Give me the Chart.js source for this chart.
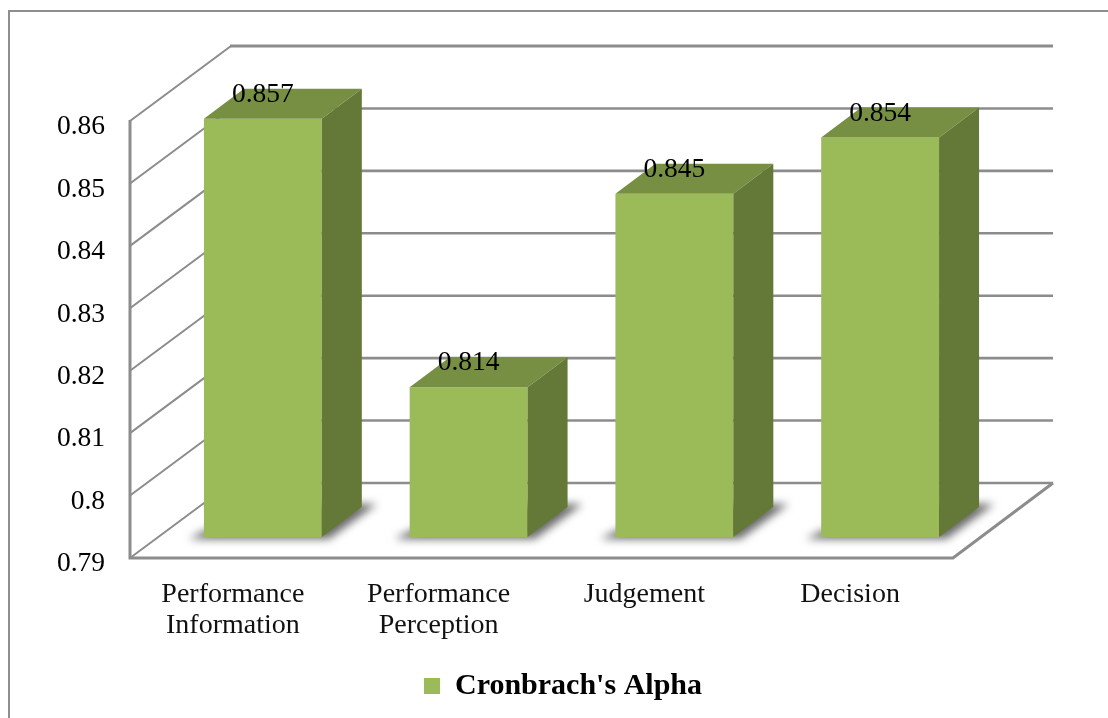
<!DOCTYPE html>
<html lang="en">
<head>
  <meta charset="UTF-8" />
  <title>Cronbach's Alpha</title>
  <script src="https://cdn.jsdelivr.net/npm/chart.js"></script>
  <style>
    html, body { margin: 0; background: #fff; overflow: hidden; }
    #frame {
      position: absolute; left: 8px; top: 10px;
      width: 1300px; height: 900px;
      border: 2px solid #8e8e8e;
    }
    #chart { position: absolute; left: 0; top: 0; }
  </style>
</head>
<body>
  <div id="frame"></div>
  <canvas id="chart" width="1108" height="718"></canvas>

  <script>
    const categories = [
      ['Performance', 'Information'],
      ['Performance', 'Perception'],
      ['Judgement'],
      ['Decision']
    ];
    const alphaValues = [0.857, 0.814, 0.845, 0.854];
    const seriesName = "Cronbrach's Alpha";
    const yMin = 0.79;
    const yMax = 0.86;

    const serif = "'Liberation Serif', serif";
    const gridColor = '#8c8c8c';

    // fake 3D offsets
    const wallDx = 101, wallDy = 75;
    const barShiftX = 30, barShiftY = -21;
    const barDepthX = 40, barDepthY = 30;

    function poly(ctx, pts, fill) {
      ctx.beginPath();
      pts.forEach((p, i) => i ? ctx.lineTo(p[0], p[1]) : ctx.moveTo(p[0], p[1]));
      ctx.closePath();
      ctx.fillStyle = fill;
      ctx.fill();
    }

    const box3d = {
      id: 'box3d',
      beforeDraw(chart) {
        // legend sits a bit right of the page centre in the original
        const lg = chart.legend;
        lg.left = 18;
        lg.right = 1108;
        lg.top = 661;
        lg.bottom = 718;
      },
      beforeDatasetsDraw(chart) {
        const ctx = chart.ctx;
        const { left, right, bottom } = chart.chartArea;
        const y = chart.scales.y;

        // walls and floor
        ctx.save();
        ctx.strokeStyle = gridColor;
        y.ticks.forEach(t => {
          const py = y.getPixelForValue(t.value);
          ctx.lineWidth = 2;
          ctx.beginPath();
          ctx.moveTo(left, py);
          ctx.lineTo(left + wallDx, py - wallDy);
          ctx.stroke();
          ctx.lineWidth = t.value === yMax ? 3 : 2.6;
          ctx.beginPath();
          ctx.moveTo(left + wallDx - 1, py - wallDy);
          ctx.lineTo(right + wallDx - 1, py - wallDy);
          ctx.stroke();
        });
        ctx.lineWidth = 3;
        ctx.beginPath();
        ctx.moveTo(left, y.getPixelForValue(yMax) - 1);
        ctx.lineTo(left, bottom);
        ctx.lineTo(right, bottom);
        ctx.lineTo(right + wallDx - 1, bottom - wallDy);
        ctx.stroke();
        ctx.restore();

        // bars are pushed back off the front plane, closed in afterDatasetsDraw
        ctx.save();
        ctx.translate(barShiftX, barShiftY);
        chart.getDatasetMeta(0).data.forEach(bar => {
          const x0 = bar.x - bar.width / 2, x1 = bar.x + bar.width / 2;
          ctx.save();
          ctx.filter = 'blur(4px)';
          poly(ctx, [
            [x0 - 15, bar.base + 2],
            [x1 + 7, bar.base + 2],
            [x1 + barDepthX + 15, bar.base - barDepthY - 3],
            [x1, bar.base - barDepthY - 3],
            [x0, bar.base - 6]
          ], '#6a6a6a');
          ctx.restore();
        });
      },
      afterDatasetsDraw(chart) {
        const ctx = chart.ctx;
        const meta = chart.getDatasetMeta(0);
        meta.data.forEach(bar => {
          const x0 = bar.x - bar.width / 2, x1 = bar.x + bar.width / 2;
          poly(ctx, [
            [x0, bar.y],
            [x0 + barDepthX, bar.y - barDepthY],
            [x1 + barDepthX, bar.y - barDepthY],
            [x1, bar.y]
          ], '#778f43');
          poly(ctx, [
            [x1, bar.y],
            [x1 + barDepthX, bar.y - barDepthY],
            [x1 + barDepthX, bar.base - barDepthY],
            [x1, bar.base]
          ], '#647937');
        });
        ctx.restore();

        // value labels
        ctx.save();
        ctx.font = "27.5px " + serif;
        ctx.fillStyle = '#000';
        ctx.textAlign = 'center';
        ctx.textBaseline = 'middle';
        meta.data.forEach((bar, i) => {
          ctx.fillText(String(alphaValues[i]), bar.x + barShiftX, bar.y + barShiftY - 24);
        });
        ctx.restore();
      }
    };

    new Chart(document.getElementById('chart'), {
      type: 'bar',
      data: {
        labels: categories,
        datasets: [{
          label: seriesName,
          data: alphaValues,
          base: yMin,
          backgroundColor: '#9bbb59',
          borderWidth: 0,
          categoryPercentage: 1,
          barPercentage: 0.573,
          clip: false
        }]
      },
      options: {
        responsive: false,
        animation: false,
        layout: { padding: { top: 121, right: 155, bottom: 28, left: 0 } },
        plugins: {
          tooltip: { enabled: false },
          legend: {
            position: 'bottom',
            labels: {
              boxWidth: 16,
              boxHeight: 16,
              color: '#000',
              font: { family: serif, size: 30, weight: 'bold' }
            }
          }
        },
        scales: {
          x: {
            grid: { display: false },
            border: { display: false },
            afterFit(scale) { scale.height = 82; },
            ticks: {
              color: '#111',
              maxRotation: 0,
              autoSkip: false,
              padding: 13,
              font: { family: serif, size: 28, lineHeight: 1.11 }
            }
          },
          y: {
            min: yMin,
            max: yMax,
            grid: { display: false },
            border: { display: false },
            afterFit(scale) { scale.width = 130; },
            ticks: {
              stepSize: 0.01,
              color: '#000',
              padding: 17,
              labelOffset: 6,
              font: { family: serif, size: 27.5 },
              callback: v => String(parseFloat(v.toFixed(2)))
            }
          }
        }
      },
      plugins: [box3d]
    });
  </script>
</body>
</html>
